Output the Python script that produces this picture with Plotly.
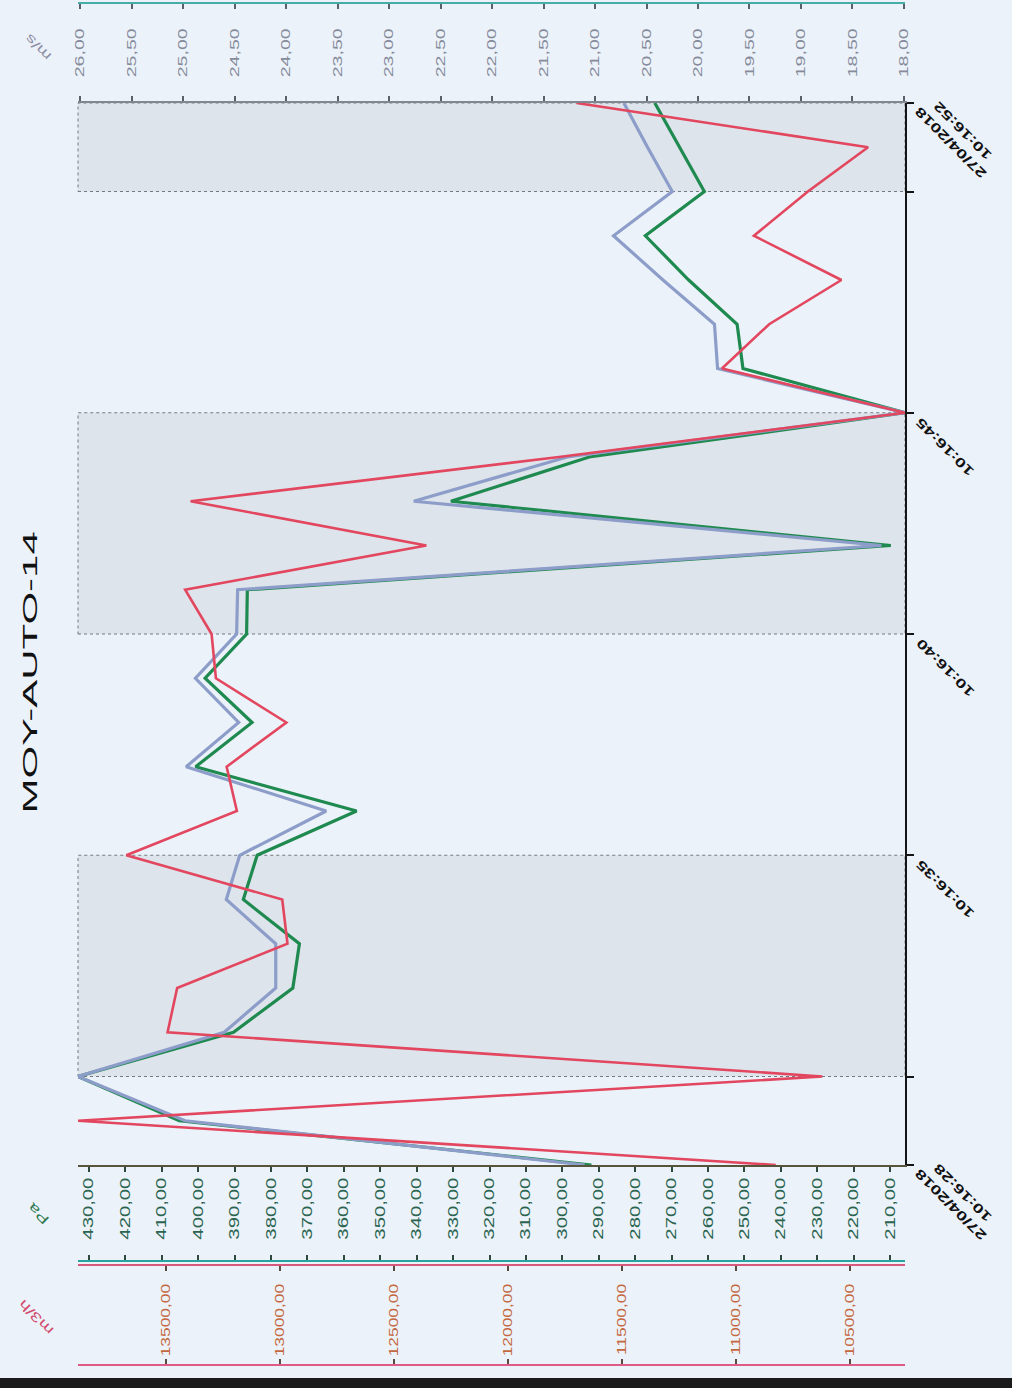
import json
import plotly.graph_objects as go

FIG_W, FIG_H = 1012, 1388
FONT = "Liberation Sans, Arial, sans-serif"

# ---- measurements, one reading per second ----
seconds = list(range(28, 53))
times = ["2018-04-27 10:16:%02d" % s for s in seconds]

debit_m3h = [10827, 13888, 10623, 13495, 13453, 12969, 12992, 13676, 13191,
             13236, 12974, 13283, 13302, 13418, 12360, 13394, 11778, 10260,
             11063, 10856, 10539, 10923, 10686, 10422, 11701]
pression_pa = [292.0, 405.2, 433.0, 390.3, 374.0, 372.2, 387.6, 383.8, 356.5,
               400.7, 385.2, 398.1, 386.7, 386.5, 209.8, 330.6, 292.6, 205.9,
               250.4, 252.0, 265.3, 277.2, 261.0, 267.9, 274.6]
vitesse_ms = [21.10, 24.98, 26.02, 24.60, 24.10, 24.10, 24.58, 24.45, 23.61,
              24.97, 24.46, 24.88, 24.48, 24.47, 18.22, 22.76, 21.27, 17.99,
              19.81, 19.84, 20.34, 20.82, 20.25, 20.49, 20.72]

# grey bands marking the measurement windows (start, end seconds)
shaded_periods = [(30, 35), (40, 45), (50, 52)]

# time axis ticks and their labels
time_tick_seconds = [28, 30, 35, 40, 45, 50, 52]
time_tick_labels = {
    28: "27/04/2018<br>10:16:28",
    35: "10:16:35",
    40: "10:16:40",
    45: "10:16:45",
    52: "27/04/2018<br>10:16:52",
}

title_text = "MOY-AUTO-14"
unit_labels = [("m/s", 38, 48, "#8c8fa6"), ("Pa", 38, 1214, "#2f7a52"),
               ("m3/h", 36, 1318, "#d24a6e")]


def ts(s):
    return "2018-04-27 10:16:%02d" % s


def py(p):
    """pixel row (from top) -> paper fraction"""
    return 1 - p / FIG_H


def rng(v):
    # values grow towards the left
    return [max(v), min(v)]


x_dom = [78 / FIG_W, 905 / FIG_W]
y_dom = [py(1165), py(103)]

fig = go.Figure()

fig.add_trace(go.Scatter(x=vitesse_ms, y=times, xaxis="x2", yaxis="y",
                         mode="lines", name="m/s",
                         line=dict(color="#8d9dc9", width=3.2)))
fig.add_trace(go.Scatter(x=pression_pa, y=times, xaxis="x", yaxis="y",
                         mode="lines", name="Pa",
                         line=dict(color="#1f8a50", width=3.2)))
fig.add_trace(go.Scatter(x=debit_m3h, y=times, xaxis="x3", yaxis="y",
                         mode="lines", name="m3/h",
                         line=dict(color="#e2475f", width=2.6)))
# companion traces so the secondary scale rulers get drawn
for ax, vals in (("x4", vitesse_ms), ("x5", pression_pa), ("x6", debit_m3h)):
    fig.add_trace(go.Scatter(x=vals, y=times, xaxis=ax, yaxis="y",
                             mode="lines", line=dict(width=0),
                             hoverinfo="skip", showlegend=False))


def value_axis(**kw):
    base = dict(domain=x_dom, autorange=False, showgrid=False, zeroline=False,
                automargin=False, tickformat=".2f", tick0=0, showline=True,
                ticks="outside", tickangle=-90, fixedrange=True, ticklen=5,
                tickwidth=1.5, linewidth=2)
    base.update(kw)
    return base


layout_axes = dict(
    xaxis=value_axis(range=rng(pression_pa), dtick=10, side="bottom",
                     anchor="y", linecolor="#56543a", tickcolor="#2e4a3c",
                     tickfont=dict(family=FONT, size=14, color="#2a6450"),
                     ticklabelstandoff=0),
    xaxis2=value_axis(overlaying="x", range=rng(vitesse_ms), dtick=0.5,
                      side="top", anchor="y", linecolor="#7f8791",
                      tickcolor="#5a606a",
                      tickfont=dict(family=FONT, size=13.5, color="#868b9c"),
                      ticklabelstandoff=16),
    xaxis3=value_axis(overlaying="x", range=rng(debit_m3h), dtick=500,
                      anchor="free", position=py(1265), side="bottom",
                      linecolor="#d6587c", tickcolor="#5a4a40",
                      tickfont=dict(family=FONT, size=12, color="#c4683f"),
                      ticklabelstandoff=8),
    xaxis4=value_axis(overlaying="x", range=rng(vitesse_ms), dtick=0.5,
                      anchor="free", position=py(3), side="bottom",
                      linecolor="#46aea8", tickcolor="#5a606a",
                      showticklabels=False),
    xaxis5=value_axis(overlaying="x", range=rng(pression_pa), dtick=10,
                      anchor="free", position=py(1261), side="top",
                      linecolor="#2aa3a0", tickcolor="#2e4a3c",
                      showticklabels=False),
    xaxis6=value_axis(overlaying="x", range=rng(debit_m3h), dtick=500,
                      anchor="free", position=py(1365), side="top",
                      linecolor="#df5a84", tickcolor="#5a4a40",
                      showticklabels=False),
    yaxis=dict(type="date", range=[ts(28), ts(52)], domain=y_dom,
               anchor="x", side="right", showline=True, linecolor="#151515",
               linewidth=1.6, ticks="outside", ticklen=7, tickwidth=2,
               tickcolor="#151515", tickmode="array",
               tickvals=[ts(s) for s in time_tick_seconds],
               showticklabels=False, showgrid=False, zeroline=False,
               automargin=False, fixedrange=True),
)

shapes = []
for a, b in shaded_periods:
    shapes.append(dict(type="rect", xref="x domain", yref="y", x0=0, x1=1,
                       y0=ts(a), y1=ts(b), layer="below",
                       fillcolor="rgba(150,156,164,0.16)",
                       line=dict(color="#757a80", width=1, dash="3px,3px")))
# dark strip along the bottom of the sheet
shapes.append(dict(type="rect", xref="paper", yref="paper", x0=0, x1=1,
                   y0=0, y1=py(1378), fillcolor="#1b1b1b", line=dict(width=0)))

annotations = []
stretch = []
for s, txt in time_tick_labels.items():
    two_lines = "<br>" in txt
    annotations.append(dict(
        text=txt, xref="paper", yref="y", x=x_dom[1], y=ts(s),
        xshift=52 if two_lines else 40, yshift=-34, showarrow=False,
        xanchor="center", yanchor="middle", textangle=-135, align="center",
        font=dict(family=FONT, size=13, color="#111111", weight="bold")))
    stretch.append(1.45)

annotations.append(dict(
    text=title_text, xref="paper", yref="paper", x=29 / FIG_W, y=py(672),
    showarrow=False, xanchor="center", yanchor="middle", textangle=-90,
    font=dict(family=FONT, size=21, color="#111111")))
stretch.append(2.0)

for txt, px, pyy, col in unit_labels:
    annotations.append(dict(
        text=txt, xref="paper", yref="paper", x=px / FIG_W, y=py(pyy),
        showarrow=False, xanchor="center", yanchor="middle", textangle=-135,
        font=dict(family=FONT, size=13, color=col)))
    stretch.append(1.5)

fig.update_layout(
    width=FIG_W, height=FIG_H, margin=dict(l=0, r=0, t=0, b=0, pad=0),
    template="none", showlegend=False, separators=",.",
    paper_bgcolor="#ecf2f9", plot_bgcolor="rgba(0,0,0,0)",
    font=dict(family=FONT), shapes=shapes, annotations=annotations,
    **layout_axes)

# the printed labels are drawn elongated along their reading direction
post = """
var gd = document.getElementById('{plot_id}');
var annStretch = %s;
function elongate(el, k) {
  var x = parseFloat(el.getAttribute('x')) || 0;
  var tr = el.getAttribute('transform') || '';
  el.setAttribute('transform', tr + ' translate(' + x + ',0) scale(' + k + ',1) translate(' + (-x) + ',0)');
}
gd.querySelectorAll('g.xtick text, g.x2tick text, g.x3tick text').forEach(function(t) { elongate(t, 1.45); });
annStretch.forEach(function(k, i) {
  var t = gd.querySelector('g.annotation[data-index="' + i + '"] text.annotation-text');
  if (t) { elongate(t, k); }
});
""" % json.dumps(stretch)

fig.write_html("out.html", include_plotlyjs=True, post_script=[post],
               config={"displayModeBar": False})
